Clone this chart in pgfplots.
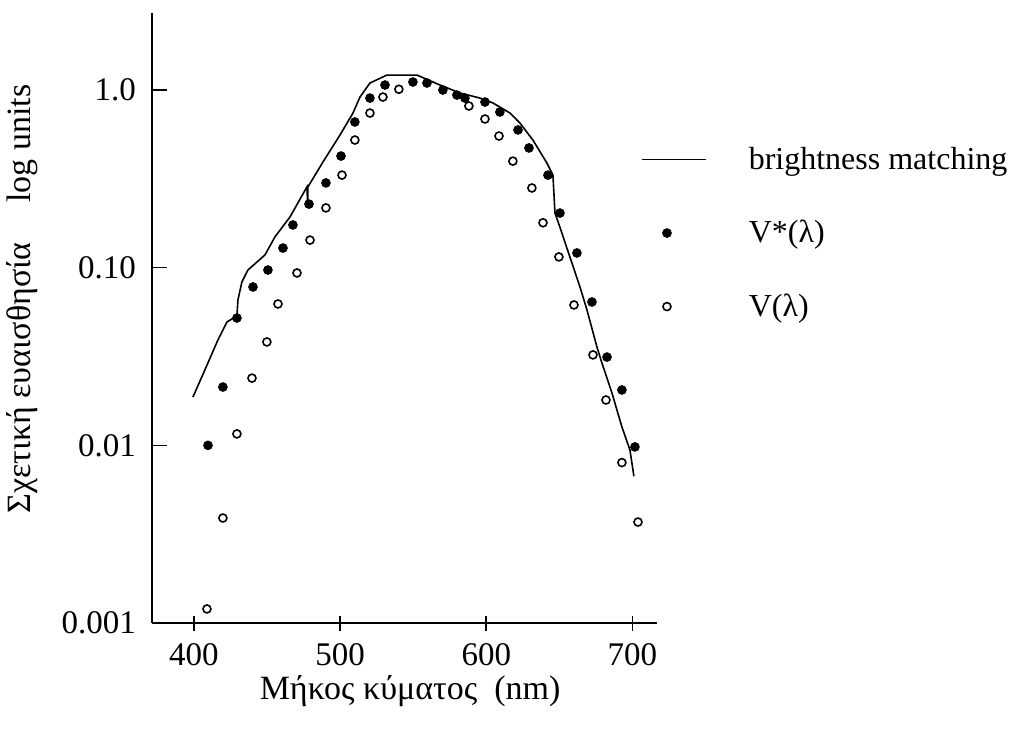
\documentclass[border=0pt]{standalone}
\usepackage{fontspec}
\setmainfont{Liberation Serif}
\usepackage{pgfplots}
\usepackage{pgfplotstable}
\pgfplotsset{compat=1.18}
\pgfplotsset{
  markimg/.style={legend image code/.code={\draw[mark repeat=2,mark phase=2,#1] plot coordinates {(0pt,0pt) (12.5pt,0pt) (25pt,0pt)}; \path (51pt,0pt);}},
  lineimg/.style={legend image code/.code={\draw[black,line width=0.8pt] (0pt,0pt)--(32pt,0pt); \path (51pt,0pt);}},
}
\pgfplotstableread{
nm v
399.3 0.0187
407.5 0.0266
416.4 0.0392
422.6 0.0495
429.4 0.0535
430.1 0.0658
432.8 0.0831
436.9 0.0970
448.6 0.118
455.4 0.149
465.7 0.193
477.3 0.285
477.8 0.228
478.0 0.285
488.3 0.394
499.9 0.558
508.8 0.742
513.6 0.913
520.4 1.095
532.0 1.214
552.6 1.214
568.3 1.067
582.0 0.962
595.7 0.901
604.6 0.845
616.2 0.742
623.0 0.652
631.9 0.523
641.5 0.388
645.6 0.332
647.0 0.203
650.4 0.169
657.2 0.115
664.1 0.0779
668.9 0.0578
675.7 0.0358
679.1 0.0291
686.0 0.0197
692.8 0.0127
698.3 0.0094
701.0 0.0067
}\brightness
\pgfplotstableread{
nm v
409.6 0.0100
419.8 0.0213
429.4 0.0521
440.4 0.0779
450.6 0.0970
460.9 0.129
467.7 0.174
478.7 0.228
490.3 0.300
500.6 0.425
510.1 0.661
520.4 0.901
530.7 1.067
549.8 1.109
559.4 1.095
570.3 1.000
579.9 0.937
585.4 0.901
599.1 0.856
609.3 0.752
621.7 0.596
629.2 0.472
642.2 0.332
650.4 0.203
662.0 0.121
672.3 0.0641
682.6 0.0314
692.8 0.0205
701.7 0.0098
}\vstar
\pgfplotstableread{
nm v
408.9 0.0012
419.8 0.0039
429.4 0.0116
439.7 0.0239
449.9 0.0382
457.5 0.0625
470.5 0.0934
479.4 0.143
490.3 0.217
501.3 0.332
510.1 0.523
520.4 0.742
529.3 0.913
540.2 1.010
588.1 0.813
599.1 0.687
608.7 0.551
618.2 0.398
631.2 0.281
638.8 0.179
649.7 0.115
660.0 0.0617
673.0 0.0323
681.9 0.0180
692.8 0.0080
703.8 0.0037
}\vlambda
\begin{document}
\begin{tikzpicture}[font=\fontsize{17}{20}\selectfont]
\begin{axis}[name=ax, scale only axis, width=252.5pt, height=305pt,
  xmin=371.3, xmax=716.8, ymode=log, ymin=0.001, ymax=2.713,
  axis lines=left, axis line style={-, line width=1pt},
  xtick={400,500,600,700},
  ytick={0.001,0.01,0.1,1}, yticklabels={0.001,0.01,0.10,1.0},
  yminorticks=false, xminorticks=false,
  xtick align=center, ytick align=inside,
  major tick length=7.5pt,
  tick style={line width=0.8pt, black},
  /pgf/number format/assume math mode=true,
  xticklabel style={font=\fontsize{16.5}{19}\selectfont, yshift=-3pt},
  yticklabel style={font=\fontsize{16.5}{19}\selectfont, xshift=-4.5pt},
  legend style={draw=none, fill=none, at={(0.956,0.794)}, anchor=north west,
    row sep=20pt, font=\fontsize{16}{19}\selectfont},
  legend cell align=left,
  clip=false,
]
\addplot[black, line width=0.8pt, lineimg]
  table[x=nm,y=v] {\brightness};
\addlegendentry{brightness matching}
\addplot[only marks, mark=*, mark size=2.2pt, black, markimg]
  table[x=nm,y=v] {\vstar};
\addlegendentry{V*(λ)}
\addplot[only marks, mark=o, mark size=2pt, black, mark options={line width=0.8pt}, markimg]
  table[x=nm,y=v] {\vlambda};
\addlegendentry{V(λ)}
\node[rotate=90] at (rel axis cs:-0.2574,0.531) {Σχετική ευαισθησία\hspace{20pt}log units};
\node at (rel axis cs:0.511,-0.1115) {Μήκος κύματος\ \ (nm)};
\end{axis}
\pgfresetboundingbox
\path[use as bounding box] ([shift={(-76pt,-53.5pt)}]ax.south west) rectangle ++(508.5pt,365pt);
\end{tikzpicture}
\end{document}
